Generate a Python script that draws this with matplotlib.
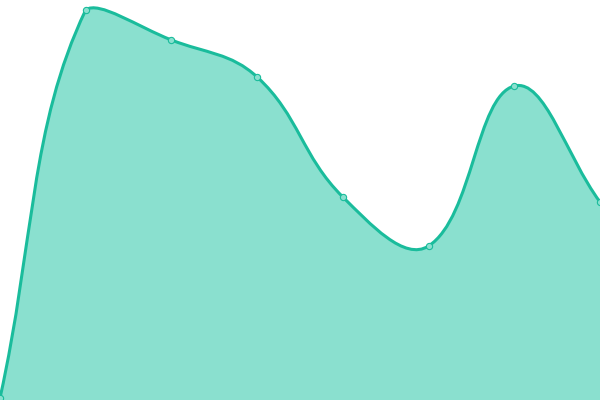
import numpy as np
import matplotlib
matplotlib.use("Agg")
import matplotlib.pyplot as plt
from matplotlib.path import Path
from matplotlib.patches import PathPatch

categories = ["A", "B", "C", "D", "E", "F", "G", "H"]
values = [2, 390, 360, 323, 203, 154, 314, 198]

LINE = "#1abc9c"
FILL = "#8ae0cf"
W, H = 600, 400
YMAX = 400

fig = plt.figure(figsize=(6, 4), dpi=100)
ax = fig.add_axes([0, 0, 1, 1])
ax.set_xlim(0, len(categories) - 1)
ax.set_ylim(0, YMAX)
ax.axis("off")

# positions in pixel space (axes fill the figure)
n = len(values)
xs = np.arange(n, dtype=float)
pts = np.array([ax.transData.transform((x, v)) for x, v in zip(xs, values)])

tension = 0.4
cps_prev = [None] * n
cps_next = [None] * n
for i in range(n):
    cur = pts[i]
    prev = pts[i - 1] if i > 0 else cur
    nxt = pts[i + 1] if i < n - 1 else cur
    d01 = np.hypot(*(cur - prev))
    d12 = np.hypot(*(nxt - cur))
    s01 = d01 / (d01 + d12) if d01 + d12 else 0
    s12 = d12 / (d01 + d12) if d01 + d12 else 0
    fa = tension * s01
    fb = tension * s12
    cp_p = cur - fa * (nxt - prev)
    cp_n = cur + fb * (nxt - prev)
    cps_prev[i] = np.clip(cp_p, [0, 0], [W, H])
    cps_next[i] = np.clip(cp_n, [0, 0], [W, H])

inv = ax.transData.inverted()
verts = [inv.transform(pts[0])]
codes = [Path.MOVETO]
for i in range(n - 1):
    verts += [inv.transform(cps_next[i]), inv.transform(cps_prev[i + 1]), inv.transform(pts[i + 1])]
    codes += [Path.CURVE4] * 3

line_path = Path(verts, codes)
fill_verts = verts + [(xs[-1], 0), (xs[0], 0), verts[0]]
fill_codes = codes + [Path.LINETO, Path.LINETO, Path.CLOSEPOLY]
ax.add_patch(PathPatch(Path(fill_verts, fill_codes), facecolor=FILL, edgecolor="none"))
ax.add_patch(PathPatch(line_path, facecolor="none", edgecolor=LINE, linewidth=2.2))
ax.plot(xs, values, linestyle="none", marker="o", markersize=4.5,
        markerfacecolor=FILL, markeredgecolor=LINE, markeredgewidth=0.8)

fig.savefig("out.png", dpi=100)
